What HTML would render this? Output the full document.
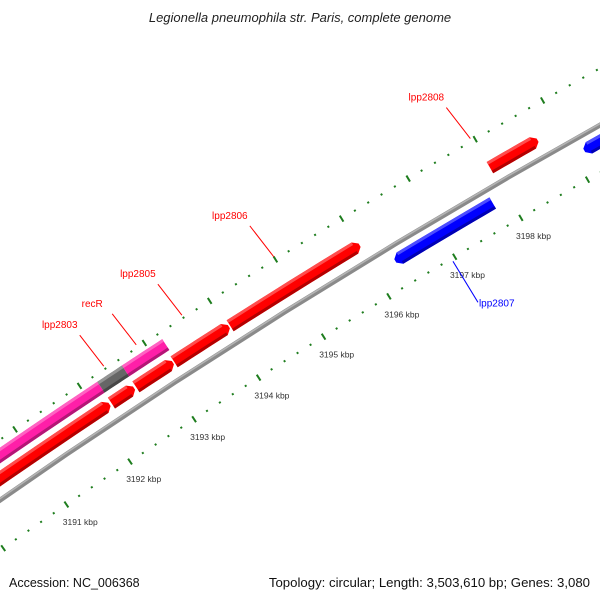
<!DOCTYPE html>
<html><head><meta charset="utf-8">
<style>
html,body{margin:0;padding:0;background:#fff;overflow:hidden;}
svg{display:block;font-family:"Liberation Sans","DejaVu Sans",sans-serif;}
</style></head>
<body>
<svg id="map" width="600" height="600" viewBox="0 0 600 600">
<text x="300" y="22" text-anchor="middle" font-size="13" font-style="italic" fill="#222">Legionella pneumophila str. Paris, complete genome</text>
<g id="plot"></g>
<text x="9" y="587" font-size="12.5" fill="#111">Accession: NC_006368</text>
<text x="590" y="587" text-anchor="end" font-size="13.2" fill="#111">Topology: circular; Length: 3,503,610 bp; Genes: 3,080</text>
</svg>
<script>
// data
const majorTicks = [3191,3192,3193,3194,3195,3196,3197,3198];
const tickLabels = ["3191 kbp","3192 kbp","3193 kbp","3194 kbp","3195 kbp","3196 kbp","3197 kbp","3198 kbp"];
const geneNames = ["gene-a","gene-b","gene-c","gene-d","lpp2806","lpp2808","gene-p1","lpp2803","recR","lpp2807","gene-r2"];
const geneStarts = [3188.0,3192.22,3192.60,3193.19,3194.05,3197.98,3188.0,3192.22,3192.60,3196.31,3199.15];
const geneEnds   = [3192.19,3192.57,3193.17,3194.03,3196.02,3198.69,3192.22,3192.60,3193.22,3197.78,3201.0];
const geneRows   = ["fwd-inner","fwd-inner","fwd-inner","fwd-inner","fwd-inner","fwd-inner","fwd-outer","fwd-outer","fwd-outer","rev","rev"];
const geneColors = ["#ff0000","#ff0000","#ff0000","#ff0000","#ff0000","#ff0000","#ff1fa8","#666666","#ff1fa8","#0000ff","#0000ff"];
const geneArrow  = [true,true,true,true,true,true,false,false,false,true,true];
const labelNames = ["lpp2803","recR","lpp2805","lpp2806","lpp2808","lpp2807"];
const labelPos   = [3192.40,3192.90,3193.60,3195.00,3197.95,3196.95];
const labelColors= ["#ff0000","#ff0000","#ff0000","#ff0000","#ff0000","#0000ff"];

// geometry
const CX=4222, CY=6590;
const rowR = {"fwd-inner":7428,"fwd-outer":7447,"rev":7396};
const HALF=6.5;
function phi(p){return (31.94-0.597*(p-3195))*Math.PI/180;}
function pt(p,r){const a=phi(p);return [CX-r*Math.sin(a), CY-r*Math.cos(a)];}
const NS="http://www.w3.org/2000/svg";
const g=document.getElementById('plot');
function mk(tag,attrs){const e=document.createElementNS(NS,tag);for(const k in attrs)e.setAttribute(k,attrs[k]);g.appendChild(e);return e;}
function arcPts(p0,p1,r){const n=8,a=[];for(let i=0;i<=n;i++){a.push(pt(p0+(p1-p0)*i/n,r));}return a;}
function poly(list){return list.map(q=>q[0].toFixed(2)+','+q[1].toFixed(2)).join(' ');}
const pStart=3188, pEnd=3201.5;

// backbone
{
 const e=mk('polyline',{points:poly(arcPts(pStart,pEnd,7410.5)),fill:'none',stroke:'#8a8a8a','stroke-width':5});
 
 
 const h=mk('polyline',{points:poly(arcPts(pStart,pEnd,7411.8)),fill:'none',stroke:'#b4b4b4','stroke-width':1.6});
 
 
}

// ticks
function drawTicks(r,name,labels){
 for(let k=0;k<=Math.round((pEnd-pStart)/0.2);k++){
  const p=pStart+k*0.2;
  const major=Math.abs(p-Math.round(p))<1e-6;
  const L=major?3.5:1.0;
  const a=pt(p,r-L),b=pt(p,r+L);
  const t=mk('line',{x1:a[0],y1:a[1],x2:b[0],y2:b[1],stroke:'#1e7d1e','stroke-width':2});
  
  
 }
 if(labels){
  majorTicks.forEach((p,i)=>{
   const q=pt(p,7348);
   const tx=mk('text',{x:q[0]+2,y:q[1]+3,'text-anchor':'middle','font-size':8.5,fill:'#333'});
   tx.textContent=tickLabels[i];
   
   
  });
 }
}
drawTicks(7369,'inner-ruler',true);
drawTicks(7460,'outer-ruler',false);

// genes
function shade(c,f){const n=parseInt(c.slice(1),16);let r=n>>16,gg=(n>>8)&255,b=n&255;
 if(f<0){r=r*(1+f);gg=gg*(1+f);b=b*(1+f);}else{r=r+(255-r)*f;gg=gg+(255-gg)*f;b=b+(255-b)*f;}
 return 'rgb('+Math.round(r)+','+Math.round(gg)+','+Math.round(b)+')';}
geneNames.forEach((nm,i)=>{
 const r=rowR[geneRows[i]], s=geneStarts[i], e=geneEnds[i], c=geneColors[i];
 const head=0.07;
 const rev=geneRows[i]==='rev';
 let pts;
 if(!geneArrow[i]){
  pts=arcPts(s,e,r+HALF).concat(arcPts(e,s,r-HALF));
 } else if(!rev){
  pts=arcPts(s,e-head,r+HALF).concat([pt(e,r+HALF*0.3),pt(e,r-HALF*0.3)]).concat(arcPts(e-head,s,r-HALF));
 } else {
  pts=[pt(s,r+HALF*0.3)].concat(arcPts(s+head,e,r+HALF)).concat(arcPts(e,s+head,r-HALF)).concat([pt(s,r-HALF*0.3)]);
 }
 const body=mk('polygon',{points:poly(pts),fill:c});
 
 
 const s2=geneArrow[i]&&rev?s+head:s, e2=geneArrow[i]&&!rev?e-head:e;
 const lt=mk('polygon',{points:poly(arcPts(s2,e2,r+HALF).concat(arcPts(e2,s2,r+HALF-3))),fill:shade(c,0.3)});
 
 
 const dk=mk('polygon',{points:poly(arcPts(s2,e2,r-HALF+3).concat(arcPts(e2,s2,r-HALF))),fill:shade(c,-0.3)});
 
 
});

// labels
labelNames.forEach((nm,i)=>{
 const p=labelPos[i], rev=labelColors[i]==='#0000ff';
 let a,b;
 if(!rev){a=pt(p,7463);b=[a[0]-24,a[1]-31];}
 else{a=pt(p,7366);b=[a[0]+25,a[1]+41];}
 const ln=mk('line',{x1:a[0],y1:a[1],x2:b[0],y2:b[1],stroke:labelColors[i],'stroke-width':1});
 
 
 const tx=mk('text',{x:rev?b[0]+1:b[0]-20,y:rev?b[1]+4:b[1]-7,'text-anchor':rev?'start':'middle','font-size':10,fill:labelColors[i]});
 tx.textContent=nm;
 
 
});
</script>
</body></html>
